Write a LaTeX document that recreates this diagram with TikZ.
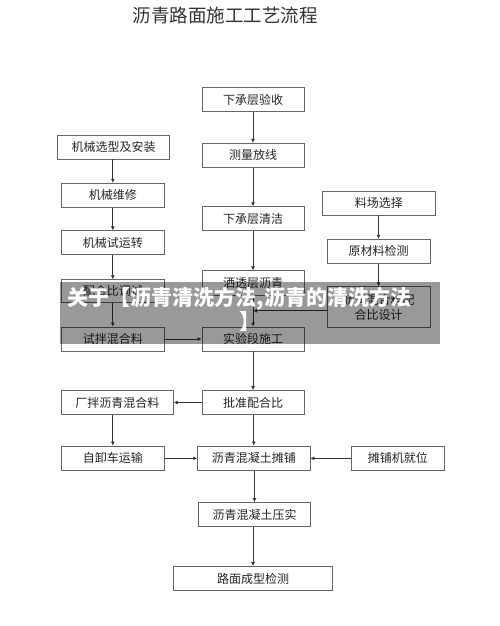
\documentclass[tikz,border=0pt]{standalone}
\usepackage{fontspec}
\newfontfamily\cjk{Noto Sans CJK SC}
\usetikzlibrary{arrows.meta}
\tikzset{
  boite/.style={draw=black!60, line width=0.8pt, inner sep=0pt, minimum height=24pt,
    text=black!85, font=\cjk\fontsize{12}{15}\selectfont},
  fleche/.style={draw=black!80, line width=0.8pt, -{Latex[length=4pt,width=4pt]}}
}
\begin{document}
\begin{tikzpicture}[x=1pt,y=-1pt]
			\fill[white] (0,0) rectangle (500,626);
			\useasboundingbox (0,0) rectangle (500,626);
			\node[text=black!80, font=\cjk\fontsize{18.5}{22}\selectfont] (titre) at (225,15.5) {沥青路面施工工艺流程};
			
			% Colonne centrale
			\node[boite, minimum width=102pt] (yanshou) at (253,99.5) {下承层验收};
			\node[boite, minimum width=102pt] (celiang) at (253,155.3) {测量放线};
			\node[boite, minimum width=102pt] (qingjie) at (253,218.7) {下承层清洁};
			\node[boite, minimum width=102pt, minimum height=25pt] (satou) at (253,283.3) {洒透层沥青};
			\node[boite, minimum width=102pt] (shiyan) at (253,339) {实验段施工};
			\node[boite, minimum width=102pt] (pizhun) at (253,402.5) {批准配合比};
			\node[boite, minimum width=112.3pt, minimum height=24.7pt] (tanpu) at (253.8,458.3) {沥青混凝土摊铺};
			\node[boite, minimum width=112.4pt] (yashi) at (254.5,514.5) {沥青混凝土压实};
			\node[boite, minimum width=159.4pt] (jiance) at (253,578.5) {路面成型检测};
			\coordinate (hui) at (253,310.7);
			
			% Colonne gauche
			\node[boite, minimum width=111.6pt] (xuanxing) at (113.5,147) {机械选型及安装};
			\node[boite, minimum width=103pt] (weixiu) at (112.8,195.2) {机械维修};
			\node[boite, minimum width=103pt] (yunzhuan) at (112.8,242.8) {机械试运转};
			\node[boite, minimum width=103pt, minimum height=23pt] (tiaoshi) at (112.8,291.2) {配合比调试};
			\node[boite, minimum width=103pt] (shiban) at (112.8,339) {试拌混合料};
			\node[boite, minimum width=112pt] (changban) at (117.3,402.5) {厂拌沥青混合料};
			\node[boite, minimum width=103pt, minimum height=24.7pt] (zixie) at (112.8,458.3) {自卸车运输};
			
			% Colonne droite
			\node[boite, minimum width=112.3pt] (liaochang) at (378.8,203) {料场选择};
			\node[boite, minimum width=103pt] (yuancai) at (378.5,251.2) {原材料检测};
			\node[boite, minimum width=103pt, minimum height=40.6pt, align=center] (sheji) at (378.5,307) {沥青混合料配\\合比设计};
			\node[boite, minimum width=93.7pt, minimum height=24.7pt] (jiwei) at (397.8,458.3) {摊铺机就位};
			
			% Flèches
			\draw[fleche] (yanshou) -- (celiang);
			\draw[fleche] (celiang) -- (qingjie);
			\draw[fleche] (qingjie) -- (satou);
			\draw[fleche] (satou) -- (shiyan);
			\draw[fleche] (sheji.west |- hui) -- (hui);
			\draw[fleche] (xuanxing.south -| weixiu.north) -- (weixiu.north);
			\draw[fleche] (weixiu) -- (yunzhuan);
			\draw[fleche] (yunzhuan) -- (tiaoshi);
			\draw[fleche] (tiaoshi) -- (shiban);
			\draw[fleche] (shiban) -- (shiyan);
			\draw[fleche] (liaochang.south -| yuancai.north) -- (yuancai.north);
			\draw[fleche] (yuancai) -- (sheji);
			\draw[fleche] (shiyan) -- (pizhun);
			\draw[fleche] (pizhun) -- (changban);
			\draw[fleche] (changban.south -| zixie.north) -- (zixie.north);
			\draw[fleche] (pizhun.south -| tanpu.north) -- (tanpu.north);
			\draw[fleche] (zixie) -- (tanpu);
			\draw[fleche] (jiwei) -- (tanpu);
			\draw[fleche] (tanpu.south -| yashi.north) -- (yashi.north);
			\draw[fleche] (yashi.south -| jiance.north) -- (jiance.north);
			
			% Bandeau
			\fill[black, opacity=0.4] (60,282) rectangle (440,344);
			\node[text=white, font=\cjk\bfseries\fontsize{21}{24}\selectfont, inner sep=0pt] (bandeau) at (239.5,299) {关于【沥青清洗方法,沥青的清洗方法};
			\node[text=white, font=\cjk\bfseries\fontsize{21}{24}\selectfont, inner sep=0pt] (crochet) at (250,322) {】};
		\end{tikzpicture}
\end{document}
